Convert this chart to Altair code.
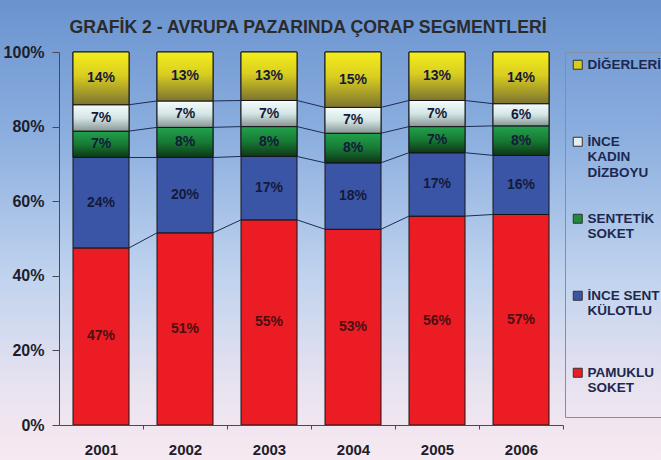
import altair as alt
import pandas as pd

years = [2001, 2002, 2003, 2004, 2005, 2006]
series = ["PAMUKLU SOKET", "İNCE SENT KÜLOTLU", "SENTETİK SOKET", "İNCE KADIN DİZBOYU", "DİĞERLERİ"]
pamuklu_soket = [47, 51, 55, 53, 56, 57]
ince_sent_kulotlu = [24, 20, 17, 18, 17, 16]
sentetik_soket = [7, 8, 8, 8, 7, 8]
ince_kadin_dizboyu = [7, 7, 7, 7, 7, 6]
digerleri = [14, 13, 13, 15, 13, 14]
y_ticks = [0, 0.2, 0.4, 0.6, 0.8, 1.0]
title_text = "GRAFİK 2 - AVRUPA PAZARINDA ÇORAP SEGMENTLERİ"

solid_colors = ["#ec1c24", "#3a55a5", "#1f8a3e", "#e4eeee", "#d8cc20"]

values = [pamuklu_soket, ince_sent_kulotlu, sentetik_soket, ince_kadin_dizboyu, digerleri]
rows = []
for i, (s, vals) in enumerate(zip(series, values)):
    for y, v in zip(years, vals):
        rows.append({"year": y, "series": s, "value": v, "order": i})
df = pd.DataFrame(rows)

FONT = "Liberation Sans"
W, H = 504, 373
PAD = {"left": 59, "top": 52, "right": 98, "bottom": 35}


def vgrad(stops):
    return alt.LinearGradient(
        gradient="linear", x1=0, y1=0, x2=0, y2=1,
        stops=[alt.GradientStop(offset=o, color=c) for o, c in stops],
    )


bg_grad = vgrad([(0, "#6a93cf"), (0.3, "#8cafdf"), (0.6, "#c0d3ee"), (0.85, "#e9e3f0"), (1, "#f7e9f0")])
grads = {
    2: vgrad([(0, "#22a24c"), (0.5, "#177a35"), (1, "#0e3616")]),
    3: vgrad([(0, "#f6fcfc"), (0.5, "#d4e5e5"), (1, "#879694")]),
    4: vgrad([(0, "#f5ee1c"), (0.45, "#d9cd20"), (1, "#7c7430")]),
}

xscale = alt.Scale(domain=[2000.5, 2006.5], nice=False, zero=False, padding=0)
yscale = alt.Scale(domain=[0, 1], nice=False, padding=0)

xaxis = alt.Axis(values=years, format="d", tickOffset=42, labelOffset=-42, tickSize=4,
                 labelPadding=13, grid=False, labelFont=FONT, labelFontSize=15,
                 labelFontWeight="bold", labelColor="#1d1d2b", domainColor="#4a4a4a",
                 tickColor="#4a4a4a", zindex=1, title=None)
yaxis = alt.Axis(values=y_ticks, format=".0%", tickSize=7, labelPadding=8, grid=False,
                 labelFont=FONT, labelFontSize=16, labelFontWeight="bold",
                 labelColor="#1d1d2b", domainColor="#4a4a4a", tickColor="#4a4a4a",
                 zindex=1, title=None)

label_expr = (
    "datum.label == 'DİĞERLERİ' ? ['DİĞERLERİ', '', ''] : "
    "datum.label == 'İNCE KADIN DİZBOYU' ? ['İNCE', 'KADIN', 'DİZBOYU'] : "
    "datum.label == 'SENTETİK SOKET' ? ['SENTETİK', 'SOKET', ''] : "
    "datum.label == 'İNCE SENT KÜLOTLU' ? ['İNCE SENT', 'KÜLOTLU', ''] : "
    "datum.label == 'PAMUKLU SOKET' ? ['PAMUKLU', 'SOKET', ''] : datum.label"
)
legend = alt.Legend(title=None, orient="right", offset=2, padding=6, strokeColor="#7f8fa6",
                    symbolType="square", symbolSize=81, symbolStrokeColor="#333333",
                    symbolStrokeWidth=1, labelFont=FONT, labelFontSize=13.5,
                    labelFontWeight="bold", labelColor="#1c2850", labelOffset=3,
                    rowPadding=31, labelLimit=300, labelExpr=label_expr, zindex=1)

base = alt.Chart(df).transform_stack(
    stack="value", as_=["y0", "y1"], groupby=["year"],
    sort=[alt.SortField("order", order="ascending")], offset="normalize",
)

background = alt.Chart(alt.Data(values=[{"k": 1}])).mark_rect(fill=bg_grad).encode(
    x=alt.value(-PAD["left"]), x2=alt.value(W + PAD["right"]),
    y=alt.value(-PAD["top"]), y2=alt.value(H + PAD["bottom"]),
)

title = alt.Chart(alt.Data(values=[{"t": title_text}])).mark_text(
    font=FONT, fontSize=17.7, fontWeight="bold", color="#2b2b2b",
    align="center", baseline="middle",
).encode(text="t:N", x=alt.value(W / 2 - 3), y=alt.value(-24))

bars = base.mark_bar(size=56, stroke="#151515", strokeWidth=1).encode(
    x=alt.X("year:Q", scale=xscale, axis=xaxis),
    y=alt.Y("y0:Q", scale=yscale, axis=yaxis),
    y2="y1:Q",
    color=alt.Color("series:N", scale=alt.Scale(domain=series[::-1], range=solid_colors[::-1]),
                    legend=legend),
)

grad_layers = []
for k, g in grads.items():
    grad_layers.append(
        base.transform_filter(f"datum.order == {k}")
        .mark_bar(size=56, stroke="#151515", strokeWidth=1, fill=g)
        .encode(x=alt.X("year:Q", scale=xscale, title=None),
                y=alt.Y("y0:Q", scale=yscale, title=None), y2="y1:Q")
    )

connectors = base.transform_window(
    window=[alt.WindowFieldDef(op="lead", field="y1", **{"as": "ny"})],
    groupby=["series"], sort=[alt.SortField("year")],
).transform_filter("datum.ny != null && datum.order < 4").transform_calculate(
    xa="datum.year + 0.3333", xb="datum.year + 0.6667"
).mark_rule(color="#1c2c52", strokeWidth=1).encode(
    x=alt.X("xa:Q", scale=xscale, title=None), x2="xb:Q",
    y=alt.Y("y1:Q", scale=yscale, title=None), y2="ny:Q",
)

texts = base.transform_calculate(
    mid="(datum.y0 + datum.y1) / 2", label="datum.value + '%'"
).mark_text(font=FONT, fontSize=14, fontWeight="bold").encode(
    x=alt.X("year:Q", scale=xscale, title=None),
    y=alt.Y("mid:Q", scale=yscale, title=None),
    text="label:N",
    color=alt.condition("datum.order == 0", alt.value("#4a1012"), alt.value("#141a3a")),
)

chart = alt.layer(background, bars, *grad_layers, connectors, texts, title).properties(
    width=W, height=H,
    autosize=alt.AutoSizeParams(type="none"),
    padding=PAD,
    background="#f7e9f0",
).configure_view(stroke=None)

chart.save("out.html", embed_options={"renderer": "svg", "actions": False})
